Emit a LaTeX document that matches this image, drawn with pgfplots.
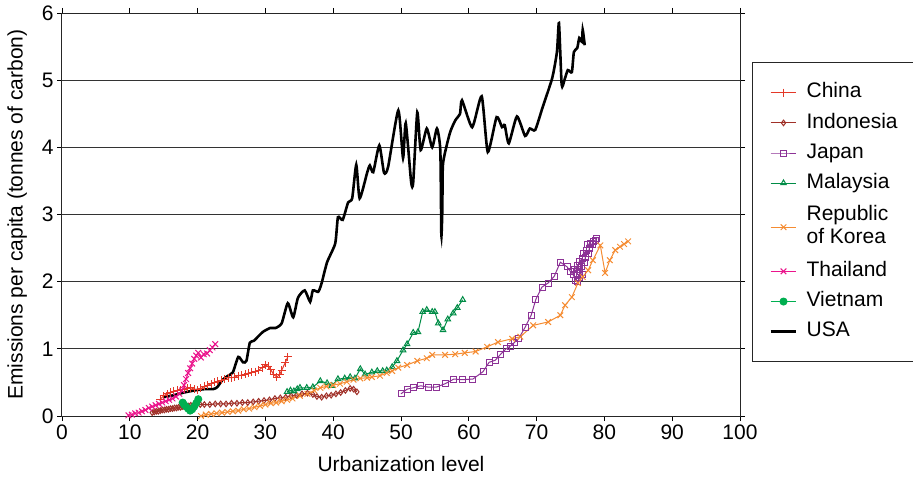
\documentclass[border=0pt]{standalone}
\usepackage{fontspec}
\setmainfont{Liberation Sans}
\usepackage{pgfplots}
\pgfplotsset{compat=1.18}
\definecolor{cChina}{RGB}{228,56,40}
\definecolor{cIndo}{RGB}{160,48,40}
\definecolor{cJapan}{RGB}{140,50,150}
\definecolor{cMalay}{RGB}{0,140,70}
\definecolor{cKorea}{RGB}{245,140,50}
\definecolor{cThai}{RGB}{235,20,140}
\definecolor{cViet}{RGB}{0,175,80}
\newcommand{\st}{\rule[-5pt]{0pt}{20pt}}
\begin{document}
\begin{tikzpicture}
\path[use as bounding box] (0pt,0pt) rectangle (913pt,477pt);
\begin{axis}[
 at={(62pt,61pt)}, anchor=south west,
 scale only axis, width=678pt, height=403pt,
 xmin=0, xmax=100, ymin=0, ymax=6,
 xtick={0,10,...,100}, ytick={0,1,...,6},
 tick align=outside, major tick length=5pt,
 ymajorgrids, grid style={black!80, line width=0.9pt},
 axis line style={black!85, line width=1pt},
 tick style={black, line width=0.8pt},
 font=\fontsize{21}{25}\selectfont,
 ticklabel style={font=\fontsize{21}{25}\selectfont},
 /pgf/number format/assume math mode=true,
 xlabel={Urbanization level},
 ylabel={Emissions per capita (tonnes of carbon)},
 xlabel style={at={(axis description cs:0.5,-0.12)}, anchor=center},
 ylabel style={at={(axis description cs:-0.066,0.5)}, anchor=center},
 every mark/.append style={solid, line width=0.8pt},
 legend image code/.code={\draw[mark repeat=2,mark phase=2] plot coordinates {(0cm,0cm) (0.45cm,0cm) (0.9cm,0cm)};},
 legend cell align=left,
 legend style={at={(1.0177,0.878)}, anchor=north west, draw=black!85, line width=0.8pt,
   inner xsep=17pt, inner ysep=20pt, row sep=10pt,
   font=\fontsize{21}{25}\selectfont,
   nodes={inner sep=0pt, text depth=},
   /tikz/every odd column/.append style={column sep=9pt}},
]
\addplot[cChina, line width=1pt, mark=+, mark size=4pt] coordinates {
(14.5,0.25)(15.0,0.30)(15.5,0.33)(16.0,0.35)(16.5,0.37)(17.0,0.38)(17.5,0.39)(18.0,0.40)(18.5,0.41)(19.0,0.42)(19.5,0.40)(20.0,0.39)(20.5,0.41)(21.0,0.44)(21.5,0.46)(22.0,0.48)(22.5,0.50)(23.0,0.52)(23.5,0.53)(24.0,0.55)(24.5,0.57)(25.0,0.57)(25.5,0.58)(26.0,0.60)(26.5,0.61)(27.0,0.62)(27.5,0.64)(28.0,0.65)(28.5,0.66)(29.0,0.68)(29.5,0.72)(30.0,0.76)(30.4,0.74)(30.8,0.69)(31.2,0.62)(31.7,0.58)(32.1,0.62)(32.4,0.68)(32.9,0.79)(33.3,0.88)};
\addlegendentry{\st China}
\addplot[cIndo, line width=1pt, mark=diamond, mark size=2.8pt] coordinates {
(13.3,0.05)(13.6,0.06)(13.9,0.07)(14.2,0.07)(14.5,0.08)(14.8,0.09)(15.1,0.09)(15.4,0.10)(15.7,0.10)(16.0,0.11)(16.3,0.11)(16.6,0.12)(16.9,0.12)(17.2,0.13)(17.5,0.13)(17.8,0.14)(18.1,0.14)(18.4,0.15)(18.7,0.15)(19.0,0.16)(19.4,0.16)(19.8,0.17)(20.4,0.17)(21.0,0.17)(21.8,0.17)(22.6,0.18)(23.4,0.18)(24.2,0.18)(25.0,0.19)(25.8,0.19)(26.6,0.20)(27.4,0.20)(28.2,0.21)(29.0,0.22)(29.8,0.23)(30.6,0.24)(31.4,0.26)(32.2,0.27)(33.0,0.28)(33.8,0.30)(34.6,0.31)(35.4,0.33)(36.2,0.34)(37.0,0.32)(37.6,0.29)(38.3,0.28)(39.0,0.30)(39.7,0.31)(40.4,0.33)(41.1,0.35)(41.8,0.38)(42.5,0.41)(43.0,0.40)(43.5,0.36)};
\addlegendentry{\st Indonesia}
\addplot[cJapan, line width=1pt, mark=square, mark size=3pt] coordinates {
(50.0,0.33)(50.9,0.40)(51.8,0.42)(52.9,0.45)(54.0,0.43)(55.2,0.43)(56.5,0.48)(57.8,0.55)(59.1,0.54)(60.6,0.55)(62.1,0.66)(63.0,0.80)(63.9,0.83)(64.7,0.92)(65.5,1.00)(66.1,1.04)(66.8,1.10)(67.4,1.16)(68.3,1.32)(69.2,1.50)(69.9,1.74)(70.8,1.92)(71.7,1.98)(72.6,2.08)(73.5,2.29)(74.5,2.22)(75.0,2.15)(75.4,2.10)(75.8,2.02)(76.1,2.00)(76.4,2.06)(76.0,2.12)(75.6,2.18)(76.0,2.24)(76.4,2.18)(76.8,2.10)(76.6,2.22)(76.3,2.30)(76.7,2.34)(77.0,2.28)(77.2,2.36)(76.9,2.42)(77.3,2.46)(77.6,2.42)(77.8,2.50)(77.5,2.55)(77.9,2.57)(78.2,2.55)(78.4,2.60)(78.7,2.62)(78.9,2.65)};
\addlegendentry{\st Japan}
\addplot[cMalay, line width=1pt, mark=triangle, mark size=3.2pt] coordinates {
(33.2,0.36)(33.7,0.38)(34.2,0.37)(34.7,0.40)(35.1,0.42)(36.1,0.42)(37.0,0.43)(38.1,0.52)(39.1,0.49)(39.8,0.45)(40.7,0.55)(41.7,0.56)(42.5,0.58)(43.2,0.56)(44.0,0.70)(44.7,0.62)(45.7,0.65)(46.5,0.67)(47.3,0.67)(47.9,0.68)(48.7,0.73)(49.4,0.82)(50.3,0.98)(50.9,1.07)(51.8,1.24)(52.5,1.25)(53.2,1.55)(53.8,1.58)(54.6,1.55)(55.0,1.55)(55.5,1.38)(56.2,1.28)(56.9,1.44)(57.7,1.53)(58.3,1.61)(59.1,1.73)};
\addlegendentry{\st Malaysia}
\addplot[cKorea, line width=1pt, mark=x, mark size=4pt] coordinates {
(20.5,0.00)(21.2,0.02)(22.0,0.03)(22.8,0.04)(23.6,0.05)(24.4,0.06)(25.2,0.07)(26.0,0.08)(26.8,0.10)(27.6,0.11)(28.4,0.13)(29.2,0.15)(30.0,0.17)(30.8,0.19)(31.6,0.20)(32.4,0.22)(33.2,0.24)(34.0,0.26)(35.1,0.30)(36.2,0.33)(37.2,0.38)(38.1,0.42)(39.0,0.44)(40.0,0.46)(41.0,0.48)(42.0,0.51)(43.0,0.54)(44.0,0.56)(45.0,0.57)(45.7,0.58)(46.9,0.60)(47.9,0.64)(48.7,0.67)(49.6,0.72)(50.9,0.76)(52.4,0.82)(53.8,0.86)(54.6,0.91)(56.5,0.91)(58.0,0.92)(59.4,0.94)(61.0,0.96)(62.7,1.03)(64.3,1.10)(66.4,1.15)(67.6,1.18)(69.5,1.35)(71.7,1.40)(73.5,1.50)(74.2,1.65)(75.2,1.77)(76.1,1.98)(76.8,2.07)(77.6,2.17)(78.3,2.32)(79.4,2.54)(80.1,2.13)(80.8,2.32)(81.6,2.47)(82.3,2.52)(82.9,2.56)(83.5,2.60)};
\addlegendentry{\begin{tabular}[c]{@{}l@{}}\st Republic\\[-2pt]\st of Korea\end{tabular}}
\addplot[cThai, line width=1pt, mark=x, mark size=4pt] coordinates {
(9.8,0.01)(10.3,0.02)(10.8,0.04)(11.3,0.05)(11.8,0.07)(12.3,0.09)(12.8,0.12)(13.3,0.14)(13.8,0.16)(14.3,0.18)(14.8,0.20)(15.3,0.22)(15.8,0.24)(16.3,0.26)(16.8,0.29)(17.3,0.33)(17.7,0.38)(18.0,0.46)(18.3,0.55)(18.6,0.64)(18.9,0.71)(19.2,0.78)(19.5,0.85)(19.8,0.90)(20.1,0.94)(20.5,0.87)(20.9,0.92)(21.4,0.93)(21.8,0.98)(22.2,1.02)(22.6,1.07)};
\addlegendentry{\st Thailand}
\addplot[cViet, line width=1pt, mark=*, mark size=3.5pt] coordinates {
(17.8,0.20)(18.0,0.17)(18.3,0.14)(18.6,0.11)(18.9,0.08)(19.2,0.10)(19.5,0.14)(19.8,0.19)(20.1,0.25)};
\addlegendentry{\st Vietnam}
\addplot[black, line width=2.6pt, smooth, tension=0.35] coordinates {
(15.0,0.28)(16.5,0.31)(18.0,0.35)(19.5,0.38)(21.0,0.40)(22.3,0.40)(22.9,0.43)(23.7,0.54)(24.5,0.60)(25.2,0.65)(26.0,0.88)(26.7,0.80)(27.2,0.82)(27.7,1.09)(28.3,1.12)(29.6,1.25)(30.7,1.31)(31.5,1.31)(32.4,1.38)(33.3,1.68)(34.1,1.47)(34.8,1.76)(35.8,1.87)(36.6,1.70)(37.0,1.87)(37.8,1.85)(38.3,1.98)(39.1,2.29)(40.3,2.57)(40.7,2.96)(41.4,2.92)(42.2,3.18)(42.8,3.24)(43.4,3.74)(43.9,3.24)(45.0,3.62)(45.4,3.73)(45.9,3.63)(46.8,4.03)(47.5,3.62)(48.1,3.71)(49.6,4.55)(50.3,3.84)(50.7,4.36)(51.5,3.48)(51.8,3.48)(52.4,4.52)(52.9,3.96)(53.8,4.28)(54.6,4.00)(55.3,4.28)(55.8,3.95)(55.95,2.69)(56.1,3.10)(56.2,3.76)(57.2,4.21)(58.0,4.40)(58.7,4.50)(59.0,4.70)(60.5,4.30)(61.9,4.76)(62.8,3.93)(64.1,4.45)(64.9,4.30)(65.3,4.33)(65.9,4.06)(67.1,4.46)(68.3,4.17)(69.0,4.28)(69.8,4.26)(70.9,4.60)(72.3,5.03)(73.0,5.42)(73.3,5.85)(73.7,4.93)(74.1,5.00)(74.6,5.15)(75.2,5.12)(75.5,5.42)(76.0,5.48)(76.3,5.63)(76.7,5.57)(76.8,5.75)(77.1,5.52)};
\addlegendentry{\st USA}
\end{axis}
\end{tikzpicture}
\end{document}
